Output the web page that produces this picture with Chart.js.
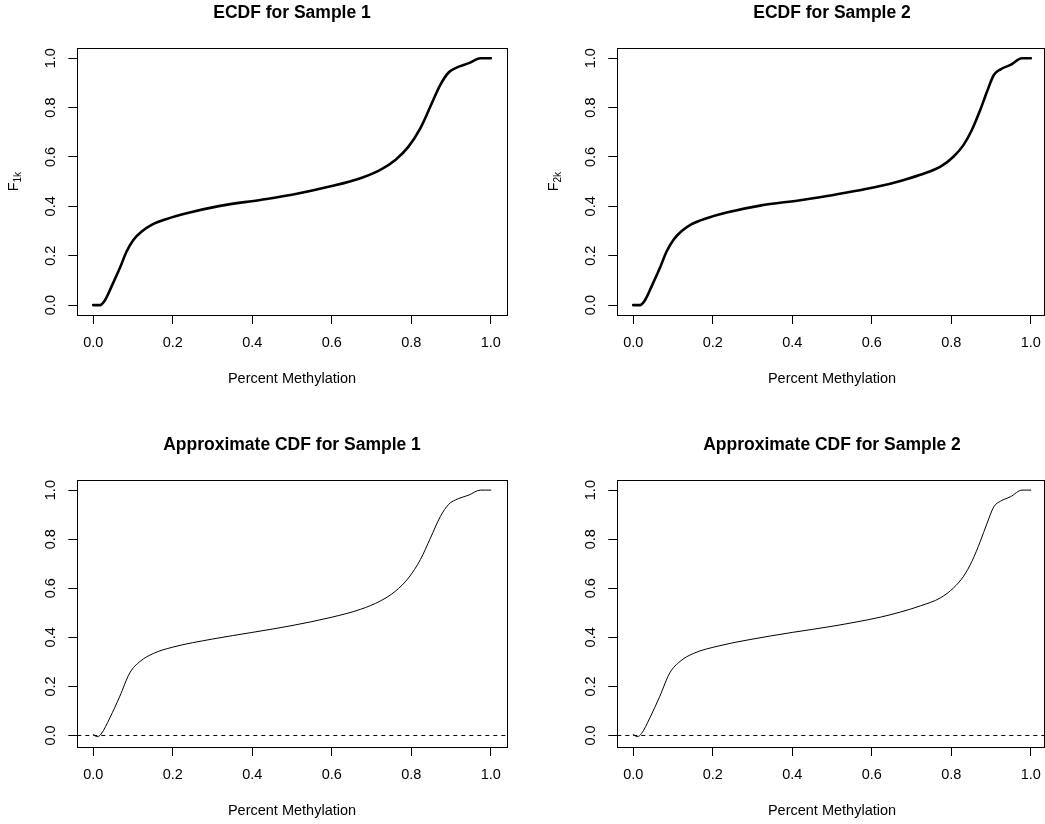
<!doctype html>
<html lang="en">
<head>
  <meta charset="utf-8">
  <title>ECDF and approximate CDF</title>
  <script src="https://cdn.jsdelivr.net/npm/chart.js@4"></script>
  <style>
    html, body { margin: 0; padding: 0; background: #fff; width: 1045px; height: 824px; overflow: hidden; }
    canvas { position: absolute; }
  </style>
</head>
<body>
  <canvas id="ecdf1" width="522" height="392" style="left:0;top:0"></canvas>
  <canvas id="ecdf2" width="522" height="392" style="left:540px;top:0"></canvas>
  <canvas id="approx1" width="522" height="392" style="left:0;top:432px"></canvas>
  <canvas id="approx2" width="522" height="392" style="left:540px;top:432px"></canvas>

  <script>
    // axis ticks and limits (R style, 4% padding)
    const tickValues = [0, 0.2, 0.4, 0.6, 0.8, 1.0];
    const xMin = -0.04;
    const xMax = 1.04;

    // ECDF, sample 1
    const ecdf1X = [0, 0.017, 0.03, 0.046, 0.067, 0.084, 0.101, 0.122, 0.147, 0.185, 0.235, 0.319, 0.42, 0.5, 0.6, 0.672, 0.722, 0.76, 0.793, 0.823, 0.848, 0.873, 0.894, 0.911, 0.945, 0.974, 1.0];
    const ecdf1Y = [0, 0, 0.021, 0.075, 0.15, 0.217, 0.264, 0.298, 0.325, 0.349, 0.372, 0.402, 0.426, 0.447, 0.482, 0.514, 0.548, 0.588, 0.642, 0.717, 0.804, 0.892, 0.942, 0.96, 0.98, 1.0, 1.0];

    // ECDF, sample 2
    const ecdf2X = [0, 0.017, 0.03, 0.046, 0.067, 0.084, 0.101, 0.122, 0.147, 0.185, 0.235, 0.319, 0.42, 0.5, 0.621, 0.672, 0.722, 0.773, 0.806, 0.831, 0.852, 0.873, 0.89, 0.907, 0.924, 0.949, 0.978, 1.0];
    const ecdf2Y = [0, 0, 0.021, 0.075, 0.15, 0.217, 0.264, 0.3, 0.328, 0.352, 0.375, 0.403, 0.425, 0.445, 0.482, 0.503, 0.528, 0.561, 0.602, 0.649, 0.71, 0.791, 0.865, 0.932, 0.955, 0.973, 1.0, 1.0];

    // approximate CDF, sample 1
    const approx1X = [0, 0.01, 0.02, 0.042, 0.067, 0.092, 0.118, 0.151, 0.2, 0.3, 0.4, 0.5, 0.6, 0.672, 0.722, 0.76, 0.793, 0.823, 0.848, 0.873, 0.894, 0.911, 0.945, 0.974, 1.0];
    const approx1Y = [0.004, -0.005, 0.006, 0.072, 0.16, 0.255, 0.302, 0.334, 0.36, 0.393, 0.42, 0.448, 0.482, 0.514, 0.548, 0.588, 0.642, 0.717, 0.804, 0.892, 0.942, 0.96, 0.98, 1.0, 1.0];

    // approximate CDF, sample 2
    const approx2X = [0, 0.01, 0.021, 0.042, 0.067, 0.092, 0.118, 0.151, 0.218, 0.294, 0.4, 0.5, 0.621, 0.672, 0.722, 0.773, 0.806, 0.831, 0.852, 0.873, 0.89, 0.907, 0.924, 0.949, 0.978, 1.0];
    const approx2Y = [0.004, -0.005, 0.008, 0.072, 0.16, 0.255, 0.302, 0.334, 0.366, 0.391, 0.42, 0.445, 0.482, 0.503, 0.528, 0.561, 0.602, 0.649, 0.71, 0.791, 0.865, 0.932, 0.955, 0.973, 1.0, 1.0];

    const family = "'Liberation Sans', Arial, Helvetica, sans-serif";
    const baseSize = 14.5;

    // box, rotated y tick labels and the F subscript label, like base R
    const rFrame = {
      id: 'rFrame',
      afterDraw(chart, args, opts) {
        const { ctx, chartArea: a, scales: { y } } = chart;
        const left = Math.round(a.left) + 0.5;
        const top = Math.round(a.top) + 0.5;
        const right = Math.min(Math.round(a.right) + 0.5, opts.maxRight);
        const bottom = Math.round(a.bottom) + 0.5;
        ctx.save();
        ctx.strokeStyle = '#000';
        ctx.lineWidth = 1;
        ctx.strokeRect(left, top, right - left, bottom - top);

        ctx.fillStyle = '#000';
        ctx.font = `${baseSize}px ${family}`;
        ctx.textAlign = 'center';
        ctx.textBaseline = 'middle';
        tickValues.forEach(v => {
          ctx.save();
          ctx.translate(51, y.getPixelForValue(v));
          ctx.rotate(-Math.PI / 2);
          ctx.fillText(v.toFixed(1), 0, 0);
          ctx.restore();
        });

        if (opts.yTitle) {
          const [main, sub] = opts.yTitle;
          ctx.textAlign = 'left';
          ctx.textBaseline = 'alphabetic';
          ctx.font = `${baseSize}px ${family}`;
          const wMain = ctx.measureText(main).width;
          ctx.font = `10px ${family}`;
          const wSub = ctx.measureText(sub).width;
          ctx.translate(18, (a.top + a.bottom) / 2);
          ctx.rotate(-Math.PI / 2);
          const start = -(wMain + wSub) / 2;
          ctx.font = `${baseSize}px ${family}`;
          ctx.fillText(main, start, 0);
          ctx.font = `10px ${family}`;
          ctx.fillText(sub, start + wMain, 3);
        }
        ctx.restore();
      }
    };

    function points(xs, ys) {
      return xs.map((x, i) => ({ x: x, y: ys[i] }));
    }

    function makePanel(id, title, xs, ys, lineWidth, yMin, yTitle, zeroLine, maxRight) {
      const datasets = [{
        data: points(xs, ys),
        borderColor: '#000',
        borderWidth: lineWidth,
        borderCapStyle: 'round',
        borderJoinStyle: 'round',
        pointRadius: 0,
        fill: false,
        cubicInterpolationMode: 'monotone'
      }];
      if (zeroLine) {
        datasets.push({
          data: [{ x: xMin, y: 0 }, { x: xMax, y: 0 }],
          borderColor: '#000',
          borderWidth: 1,
          borderDash: [4, 4],
          pointRadius: 0,
          fill: false,
          tension: 0
        });
      }
      const tickGrid = { drawOnChartArea: false, drawTicks: true, tickLength: 9, color: '#000', lineWidth: 1 };

      new Chart(document.getElementById(id), {
        type: 'line',
        data: { datasets: datasets },
        options: {
          responsive: false,
          animation: false,
          events: [],
          layout: { padding: { left: 0, top: 0, right: 15.3, bottom: 4.3 } },
          plugins: {
            legend: { display: false },
            tooltip: { enabled: false },
            title: {
              display: true,
              text: title,
              fullSize: false,
              color: '#000',
              font: { family: family, size: 17.5, weight: 'bold', lineHeight: 1.2 },
              padding: { top: 2.8, bottom: 24.5 }
            },
            rFrame: { yTitle: yTitle, maxRight: maxRight }
          },
          scales: {
            x: {
              type: 'linear',
              min: xMin,
              max: xMax,
              afterBuildTicks: s => { s.ticks = tickValues.map(v => ({ value: v })); },
              afterFit: s => { s.height = 72.7; },
              grid: tickGrid,
              border: { display: false },
              ticks: {
                color: '#000',
                padding: 10.5,
                autoSkip: false,
                maxRotation: 0,
                font: { family: family, size: baseSize, lineHeight: 1.2 },
                callback: v => v.toFixed(1)
              },
              title: {
                display: true,
                text: 'Percent Methylation',
                color: '#000',
                font: { family: family, size: baseSize, lineHeight: 1.2 },
                padding: 0
              }
            },
            y: {
              type: 'linear',
              min: yMin,
              max: 1.04,
              afterBuildTicks: s => { s.ticks = tickValues.map(v => ({ value: v })); },
              afterFit: s => { s.width = 77.3; },
              grid: tickGrid,
              border: { display: false },
              ticks: { display: false }
            }
          }
        },
        plugins: [rFrame]
      });
    }

    makePanel('ecdf1', 'ECDF for Sample 1', ecdf1X, ecdf1Y, 2.6, -0.04, ['F', '1k'], false, 9999);
    makePanel('ecdf2', 'ECDF for Sample 2', ecdf2X, ecdf2Y, 2.6, -0.04, ['F', '2k'], false, 504.5);
    makePanel('approx1', 'Approximate CDF for Sample 1', approx1X, approx1Y, 1, -0.047, null, true, 9999);
    makePanel('approx2', 'Approximate CDF for Sample 2', approx2X, approx2Y, 1, -0.047, null, true, 504.5);
  </script>
</body>
</html>
